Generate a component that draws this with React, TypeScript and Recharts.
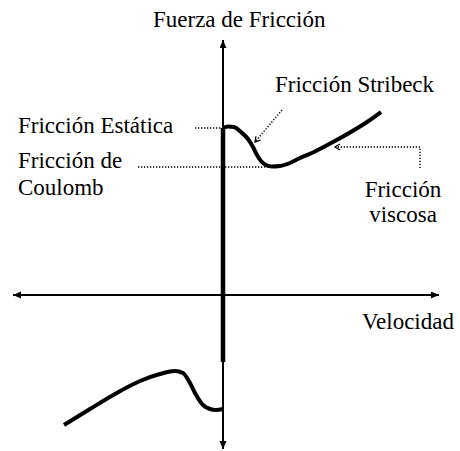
import React from 'react';
import { ComposedChart, Line, XAxis, YAxis, ReferenceDot } from 'recharts';

// Units: velocity (v) and friction force (f).
const upperCurve = [
  { v: 0, f: 16.7 }, { v: 0.5, f: 16.85 }, { v: 1.1, f: 16.8 }, { v: 1.8, f: 16.3 },
  { v: 2.5, f: 15.6 }, { v: 3.0, f: 14.8 }, { v: 3.4, f: 14.0 }, { v: 3.8, f: 13.4 },
  { v: 4.3, f: 13.0 }, { v: 4.9, f: 12.85 }, { v: 5.7, f: 12.9 }, { v: 6.7, f: 13.2 },
  { v: 7.7, f: 13.7 }, { v: 9.2, f: 14.35 }, { v: 11.0, f: 15.3 }, { v: 12.7, f: 16.25 },
  { v: 14.4, f: 17.3 }, { v: 15.8, f: 18.3 },
];

const lowerCurve = [
  { v: -15.9, f: -13.0 }, { v: -13.3, f: -11.4 }, { v: -10.8, f: -9.9 }, { v: -8.3, f: -8.6 },
  { v: -6.3, f: -7.9 }, { v: -4.8, f: -7.6 }, { v: -4.0, f: -7.8 }, { v: -3.3, f: -8.8 },
  { v: -2.8, f: -9.8 }, { v: -2.0, f: -11.0 }, { v: -1.3, f: -11.4 }, { v: -0.7, f: -11.5 },
  { v: 0, f: -11.4 },
];

const stickLine = [{ v: 0, f: 16.7 }, { v: 0, f: -6.7 }];

const velocityAxis = [{ v: -21, f: 0 }, { v: 21.6, f: 0 }];
const forceAxis = [{ v: 0, f: -15.4 }, { v: 0, f: 25.5 }];

const staticLeader = [{ v: -2.8, f: 16.7 }, { v: 0, f: 16.7 }];
const coulombLeader = [{ v: -8.5, f: 12.8 }, { v: 4.7, f: 12.8 }];
const stribeckLeader = [{ v: 5.9, f: 18.5 }, { v: 3.2, f: 15.3 }];
const viscousLeader = [{ v: 19.7, f: 12.7 }, { v: 19.7, f: 14.8 }, { v: 11.2, f: 14.8 }];

const labelTexts = [
  'Fuerza de Fricción', 'Fricción Estática', 'Fricción de', 'Coulomb',
  'Fricción Stribeck', 'Fricción', 'viscosa', 'Velocidad',
];
const labelV = [-7.0, -20.5, -20.5, -20.5, 5.2, 18.0, 18.0, 13.9];
const labelF = [26.8, 16.2, 12.7, 10.0, 20.3, 9.8, 7.3, -3.4];
const labelAnchor = ['start', 'start', 'start', 'start', 'start', 'middle', 'middle', 'start'];

const FONT = '"Liberation Serif", "Times New Roman", "DejaVu Serif", serif';

const AnnotationText = (props: any) => {
  const { viewBox, text, anchor } = props;
  if (!viewBox) return null;
  return (
    <text
      x={viewBox.x}
      y={viewBox.y}
      textAnchor={anchor}
      style={{ fontFamily: FONT, fontSize: 23, fill: '#000' }}
    >
      {text}
    </text>
  );
};

export default function App() {
  const dotted = { stroke: '#000', strokeWidth: 1.4, strokeDasharray: '1.3 1.7' };
  return (
    <div style={{ position: 'absolute', left: 0, top: 0, background: '#fff', fontFamily: FONT }}>
      <ComposedChart width={460} height={451} margin={{ top: 0, right: 0, bottom: 0, left: 0 }}>
        <defs>
          <marker id="axisHead" markerWidth="9" markerHeight="8" refX="8" refY="3.5" orient="auto-start-reverse" markerUnits="userSpaceOnUse">
            <path d="M0,0 L8,3.5 L0,7 z" fill="#000" />
          </marker>
          <marker id="openHead" markerWidth="8" markerHeight="8" refX="5.5" refY="3.5" orient="auto" markerUnits="userSpaceOnUse">
            <path d="M0.5,0.5 L5.5,3.5 L0.5,6.5" fill="none" stroke="#000" strokeWidth="1.3" />
          </marker>
        </defs>
        <XAxis type="number" dataKey="v" domain={[-22.3, 23.7]} hide allowDataOverflow />
        <YAxis type="number" dataKey="f" domain={[-15.6, 29.5]} hide allowDataOverflow />

        <Line data={velocityAxis} dataKey="f" type="linear" stroke="#000" strokeWidth={2} dot={false} activeDot={false} isAnimationActive={false} markerStart="url(#axisHead)" markerEnd="url(#axisHead)" />
        <Line data={forceAxis} dataKey="f" type="linear" stroke="#000" strokeWidth={2} dot={false} activeDot={false} isAnimationActive={false} markerStart="url(#axisHead)" markerEnd="url(#axisHead)" />

        <Line data={staticLeader} dataKey="f" type="linear" {...dotted} dot={false} activeDot={false} isAnimationActive={false} />
        <Line data={coulombLeader} dataKey="f" type="linear" {...dotted} dot={false} activeDot={false} isAnimationActive={false} />
        <Line data={stribeckLeader} dataKey="f" type="linear" {...dotted} dot={false} activeDot={false} isAnimationActive={false} markerEnd="url(#openHead)" />
        <Line data={viscousLeader} dataKey="f" type="linear" {...dotted} dot={false} activeDot={false} isAnimationActive={false} markerEnd="url(#openHead)" />

        <Line data={upperCurve} dataKey="f" type="monotone" stroke="#000" strokeWidth={4} dot={false} activeDot={false} isAnimationActive={false} />
        <Line data={lowerCurve} dataKey="f" type="monotone" stroke="#000" strokeWidth={4} dot={false} activeDot={false} isAnimationActive={false} />
        <Line data={stickLine} dataKey="f" type="linear" stroke="#000" strokeWidth={4.5} dot={false} activeDot={false} isAnimationActive={false} />

        {labelTexts.map((t, i) => (
          <ReferenceDot
            key={t + i}
            x={labelV[i]}
            y={labelF[i]}
            r={0}
            fill="none"
            stroke="none"
            ifOverflow="visible"
            label={<AnnotationText text={t} anchor={labelAnchor[i]} />}
          />
        ))}
      </ComposedChart>
    </div>
  );
}
